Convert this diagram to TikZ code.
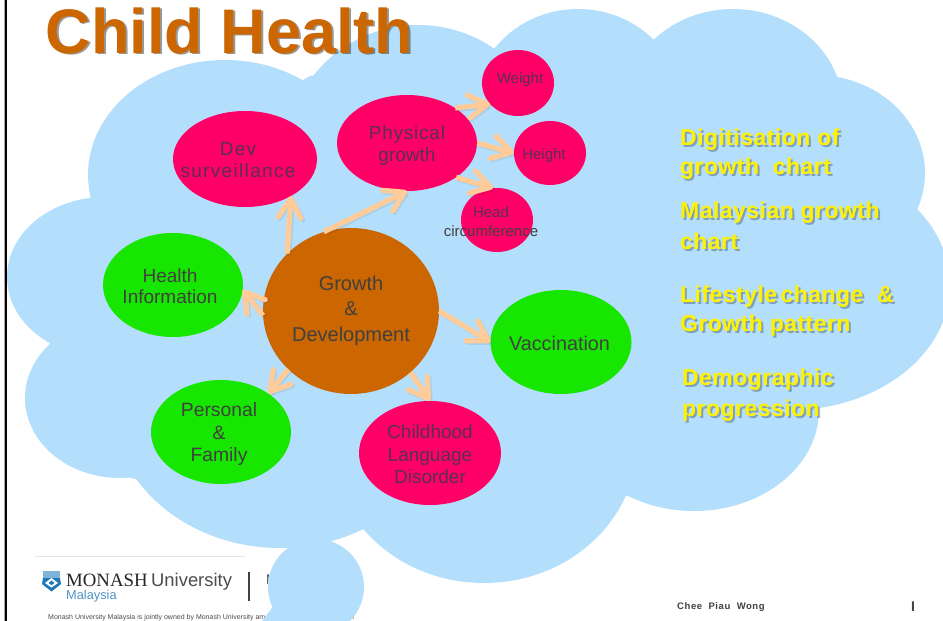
\documentclass[tikz,border=0pt]{standalone}
\usepackage{fontspec}
\setmainfont{Liberation Sans}
\newfontfamily\spacedfont[LetterSpace=4]{Liberation Sans}
\newfontfamily\widerfont[LetterSpace=7]{Liberation Sans}
\newfontfamily\widebold[LetterSpace=2]{Liberation Sans Bold}
\newfontfamily\authorfont[LetterSpace=6]{Liberation Sans Bold}
\newfontfamily\serifmono{Liberation Serif}
\usetikzlibrary{shapes.geometric,arrows}
\definecolor{cloudblue}{HTML}{B4DFFC}
\definecolor{pinkfill}{HTML}{FF0066}
\definecolor{greenfill}{HTML}{16E600}
\definecolor{brownfill}{HTML}{CC6600}
\definecolor{arrowpeach}{HTML}{FFCC99}
\definecolor{inktext}{HTML}{5A3050}
\definecolor{darktext}{HTML}{404040}
\definecolor{shieldblue}{HTML}{1F78B8}
\definecolor{shieldlight}{HTML}{7FB3D8}
\definecolor{malaysiablue}{HTML}{4F94C4}
\pgfarrowsdeclare{peachv}{peachv}
{\pgfarrowsleftextend{-19pt}\pgfarrowsrightextend{2.5pt}}
{\pgfsetroundcap\pgfsetroundjoin
 \pgfpathmoveto{\pgfqpoint{-19pt}{11.5pt}}
 \pgfpathlineto{\pgfqpoint{0pt}{0pt}}
 \pgfpathlineto{\pgfqpoint{-19pt}{-11.5pt}}
 \pgfusepathqstroke}
% \lbl{x shift}{raise}{size}{line skip}{lines}
\newcommand{\lbl}[5]{\makebox[0pt]{\hspace*{\dimexpr #1*2\relax}\fontsize{#3}{#4}\selectfont\raisebox{\dimexpr #2-.25em\relax}[0pt][0pt]{\begin{tabular}{@{}c@{}}#5\end{tabular}}}}
\tikzset{
  cloudpart/.style={fill=cloudblue,draw=none,ellipse,inner sep=0pt},
  bubble/.style={ellipse,inner sep=0pt,draw=none,text=inktext},
  pinkb/.style={bubble,fill=pinkfill},
  greenb/.style={bubble,fill=greenfill,text=darktext},
  link/.style={draw=arrowpeach,line width=5.2pt,-peachv},
  linkshadow/.style={link,draw=black,draw opacity=.07},
  yellowt/.style={anchor=west,text=yellow,font=\widebold\fontsize{23}{27}\selectfont,inner sep=0pt},
  yshadow/.style={anchor=west,text=black,text opacity=.28,font=\widebold\fontsize{23}{27}\selectfont,inner sep=0pt},
}
\begin{document}
\begin{tikzpicture}[x=1pt,y=-1pt]
\clip (0,0) rectangle (943,621);
\fill[white] (0,0) rectangle (943,621);
% slide edge
\fill[black!35] (3.5,0) rectangle (5,621);
\fill[black] (5,0) rectangle (7,621);
% footer
\draw[black!10,line width=0.6pt] (35,556) -- (245,556);
\fill[shieldlight] (43,570.5) rectangle (60,577.5);
\fill[shieldblue] (43,578) -- (60,578) -- (61,584) -- (51.5,591.5) -- (42,584) -- cycle;
\fill[white] (45,583) -- (51.5,578) -- (58,583) -- (51.5,587.5) -- cycle;
\fill[shieldblue] (48.5,583) -- (51.5,580.5) -- (54.5,583) -- (51.5,585.2) -- cycle;
\node[anchor=base west,inner sep=0pt,text=black!85] (monash) at (66,586) {\serifmono\fontsize{18.8}{24}\selectfont MONASH};
\node[anchor=base west,inner sep=0pt,text=black!70] (univ) at (151,586) {\fontsize{18.4}{24}\selectfont University};
\node[anchor=base west,inner sep=0pt,text=malaysiablue] (malaysia) at (66,599) {\fontsize{12.8}{16}\selectfont Malaysia};
\fill[black!75] (247.5,572) rectangle (249.5,601);
\node[anchor=base west,inner sep=0pt,text=black!70] (frag) at (266,584) {\fontsize{14}{16}\selectfont M};
\node[anchor=base west,inner sep=0pt,text=black!70] (note) at (48,619) {\fontsize{7}{9}\selectfont Monash University Malaysia is jointly owned by Monash University am};
\node[anchor=base west,inner sep=0pt,text=black!70] (notend) at (350,619) {\fontsize{7}{9}\selectfont n};
% cloud
\fill[cloudblue] (90,200) -- (310,76) -- (495,50) -- (655,40) -- (840,81) -- (917,212) -- (819,407) -- (627,496) -- (364,528) -- (131,478) -- (50,347) -- cycle;
\foreach \n/\cx/\cy/\rx/\ry in {a/225/175/137/115,b/418/150/130/125,p/578/109/105/100,q/733/109/110/100,d/815/173/110/98,e/790/285/160/125,f/694/410/125/101,g/484/443/153/140,h/280/400/170/148,i/105/277/98/80,j/120/398/95/80,m/316/587/48/48}{
  \node[cloudpart,minimum width=2*\rx,minimum height=2*\ry] (cloud\n) at (\cx,\cy) {};
}
\fill[cloudblue] (262,621) -- (275,604) -- (345,621) -- cycle;
% footer right
\node[anchor=base west,inner sep=0pt,text=darktext] (author) at (677,609) {\authorfont\fontsize{9.5}{11}\selectfont Chee\ \ Piau\ \ Wong};
\node[anchor=base,inner sep=0pt,text=darktext] (pagebar) at (913,611) {\fontsize{14}{14}\selectfont\bfseries I};
% title
\node[anchor=base west,inner sep=0pt,text=black,text opacity=.4] (titleS) at (47.5,54.5) {\fontsize{63}{70}\selectfont\bfseries Child Health};
\node[anchor=base west,inner sep=0pt,text=brownfill] (title) at (45.5,53) {\fontsize{63}{70}\selectfont\bfseries Child Health};
% nodes
\node[ellipse,inner sep=0pt,fill=brownfill,text=darktext,minimum width=176pt,minimum height=166pt] (grow) at (351,311) {\lbl{0pt}{0pt}{20}{25.5}{Growth\\\&\\Development}};
\node[pinkb,minimum width=140pt,minimum height=96pt] (pg) at (407,143) {\lbl{0pt}{-3pt}{19}{22}{\spacedfont Physical\\growth}};
\node[pinkb,minimum width=144pt,minimum height=96pt] (dev) at (245,159) {\lbl{-7pt}{-3pt}{19}{22}{\widerfont Dev\\\widerfont surveillance}};
\node[greenb,minimum width=140pt,minimum height=104pt] (health) at (173,285) {\lbl{-3pt}{-3pt}{19}{21}{Health\\Information}};
\node[greenb,minimum width=140pt,minimum height=104pt] (personal) at (221,432) {\lbl{-2pt}{-3pt}{19.3}{22.5}{Personal\\\&\\Family}};
\node[pinkb,minimum width=142pt,minimum height=104pt] (lang) at (430,453) {\lbl{0pt}{-3.5pt}{19}{22.5}{Childhood\\Language\\Disorder}};
\node[greenb,minimum width=141pt,minimum height=104pt] (vacc) at (561,342) {\lbl{-1.5pt}{-4pt}{19.8}{22}{Vaccination}};
\node[pinkb,minimum width=72pt,minimum height=66pt] (weight) at (518,83) {\lbl{2pt}{3pt}{15}{18}{Weight}};
\node[pinkb,minimum width=72pt,minimum height=64pt] (height) at (550,153) {\lbl{-6pt}{-3pt}{15}{18}{Height}};
\node[pinkb,minimum width=72pt,minimum height=64pt] (head) at (497,220) {\lbl{-6pt}{-3pt}{15}{19}{Head\\\textcolor{darktext}{circumference}}};
% arrows
\foreach \s/\e in {grow.109/pg.270,grow.138/dev.-39,grow.183/health.-4,grow.223/personal.39,grow.-46/lang.90,grow.0/vacc.180,pg.36/weight.217,pg.0/height.180,pg.-35/head.97}{
  \draw[linkshadow] ([shift={(1.5,1.5)}]\s) -- ([shift={(1.5,1.5)}]\e);
  \draw[link] (\s) -- (\e);
}
% yellow text
\foreach \nm/\px/\py/\txt in {d1/680/140/Digitisation of,d2/680/169/growth\ \ chart,m1/680/213/Malaysian growth,m2/680/241.5/chart,l1/680/297/Lifestyle\hspace{3.5pt}change\ \ \&,l2/680/326/Growth pattern,p1/682/380/Demographic,p2/682/411/progression}{
  \node[yshadow] (\nm s) at (\px+2,\py+2) {\txt};
  \node[yellowt] (\nm) at (\px,\py) {\txt};
}
\end{tikzpicture}
\end{document}
